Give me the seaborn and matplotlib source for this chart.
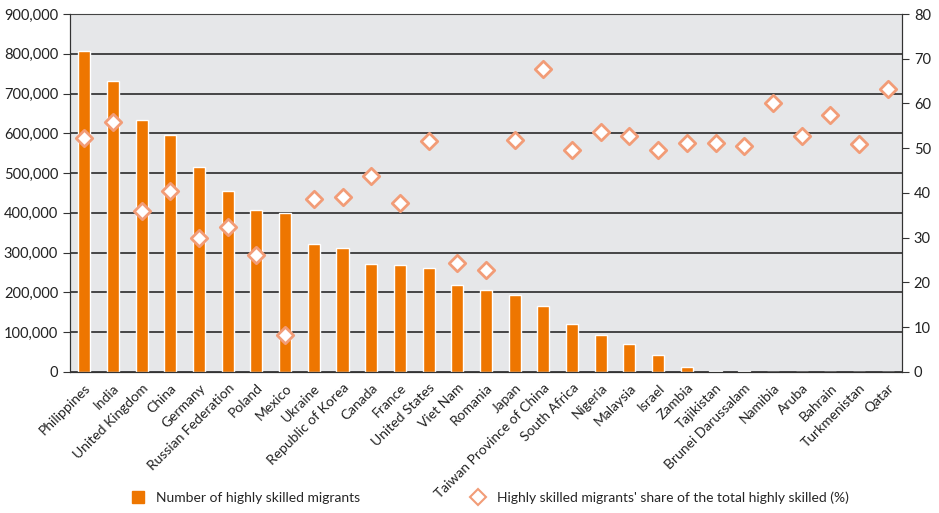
import matplotlib

matplotlib.use("Agg")

import matplotlib.pyplot as plt
import matplotlib.ticker as mticker
import matplotlib.transforms as mtransforms
from matplotlib.lines import Line2D
import numpy as np
import pandas as pd
import seaborn as sns

countries = [
    "Philippines", "India", "United Kingdom", "China", "Germany",
    "Russian Federation", "Poland", "Mexico", "Ukraine", "Republic of Korea",
    "Canada", "France", "United States", "Viet Nam", "Romania", "Japan",
    "Taiwan Province of China", "South Africa", "Nigeria", "Malaysia", "Israel",
    "Zambia", "Tajikistan", "Brunei Darussalam", "Namibia", "Aruba", "Bahrain",
    "Turkmenistan", "Qatar",
]
migrants = [
    807000, 731000, 634000, 596000, 515000, 455000, 407000, 400000, 322000,
    312000, 271500, 269000, 261000, 219000, 206000, 194000, 166000, 121000,
    93000, 70000, 43000, 12600, 2600, 2600, 900, 800, 800, 800, 800,
]
share_pct = [
    52.4, 55.9, 36.0, 40.5, 29.9, 32.5, 26.2, 8.3, 38.6, 39.1, 43.9, 37.8,
    51.7, 24.4, 22.9, 51.8, 67.6, 49.5, 53.7, 52.7, 49.6, 51.2, 51.1, 50.5,
    60.0, 52.7, 57.5, 50.9, 63.2,
]
left_ticks = list(range(0, 900001, 100000))
right_ticks = list(range(0, 81, 10))

BAR_COLOR = "#EE7600"
DIAMOND_EDGE = "#F29C77"
BG_COLOR = "#E6E7E9"

df = pd.DataFrame({"country": countries, "migrants": migrants, "share": share_pct})

sns.set_style("white")
plt.rcParams["font.family"] = ["Lato", "DejaVu Sans"]

fig, ax = plt.subplots(figsize=(9.39, 5.13), dpi=100)
fig.subplots_adjust(left=0.0745, right=0.9606, top=0.9727, bottom=0.2749)

ax.set_facecolor(BG_COLOR)
sns.barplot(data=df, x="country", y="migrants", color=BAR_COLOR, saturation=1,
            width=0.42, ax=ax, zorder=2)
ax.set_ylim(0, 900000)
ax.set_yticks(left_ticks)
ax.yaxis.set_major_formatter(mticker.StrMethodFormatter("{x:,.0f}"))
ax.grid(axis="y", color="#1a1a1a", linewidth=1.1, zorder=0)
ax.set_axisbelow(True)
ax.set_xlim(-0.5, len(countries) - 0.5)

ax2 = ax.twinx()
sns.scatterplot(data=df, x="country", y="share", marker="D", s=70,
                facecolor="white", edgecolor=DIAMOND_EDGE, linewidth=2,
                ax=ax2, zorder=3)
ax2.set_ylim(0, 80)
ax2.set_yticks(right_ticks)
ax2.set_xlim(-0.5, len(countries) - 0.5)

for a in (ax, ax2):
    a.set_xlabel("")
    a.set_ylabel("")
    a.spines["top"].set_visible(False)
    a.spines["left"].set_color("#333333")
    a.spines["right"].set_color("#333333")
    a.spines["bottom"].set_color("#333333")
ax.spines["top"].set_visible(True)
ax.spines["top"].set_color("#444444")

ax.tick_params(axis="y", length=5, color="#333333", labelsize=10.5, labelcolor="#222222")
ax2.tick_params(axis="y", length=5, color="#333333", labelsize=10.5, labelcolor="#222222")

ax.set_xticks(np.arange(len(countries)))
ax.set_xticklabels(countries, rotation=45, ha="right", va="top",
                   rotation_mode="anchor", fontsize=10, color="#222222")
shift = mtransforms.ScaledTranslation(5 / 100, 0, fig.dpi_scale_trans)
for lbl in ax.get_xticklabels():
    lbl.set_transform(lbl.get_transform() + shift)
ax.set_xticks(np.arange(-0.5, len(countries)), minor=True)
ax.tick_params(axis="x", which="major", length=0, pad=7)
ax.tick_params(axis="x", which="minor", length=5, color="#333333")

handles = [
    Line2D([], [], marker="s", linestyle="none", markersize=9,
           markerfacecolor=BAR_COLOR, markeredgecolor=BAR_COLOR),
    Line2D([], [], marker="D", linestyle="none", markersize=8,
           markerfacecolor="white", markeredgecolor=DIAMOND_EDGE, markeredgewidth=1.5),
]
labels = [
    "Number of highly skilled migrants",
    "Highly skilled migrants' share of the total highly skilled (%)",
]
fig.legend(handles, labels, loc="center", bbox_to_anchor=(0.518, 0.03), ncol=2,
           frameon=False, fontsize=10, handletextpad=0.3, columnspacing=7.5)

fig.savefig("out.png", dpi=100)
